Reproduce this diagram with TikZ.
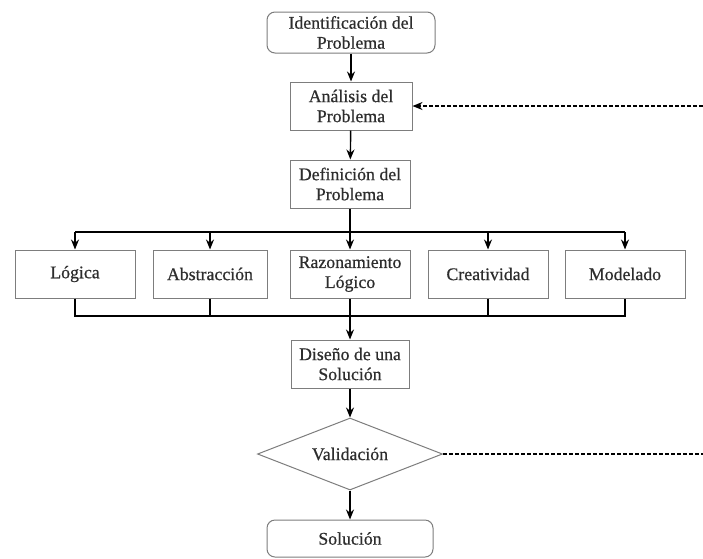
\documentclass[tikz,border=0pt]{standalone}
\usepackage{fontspec}
\setmainfont{Liberation Serif}[FakeBold=0.6]
\usetikzlibrary{shapes.geometric,arrows.meta}
\definecolor{boxgray}{RGB}{125,125,125}
\definecolor{txt}{RGB}{45,45,45}
\begin{document}
\begin{tikzpicture}[x=1pt,y=-1pt,
  box/.style={draw=boxgray,line width=1pt,fill=white,text=txt,inner sep=0pt,align=center,
    font=\fontsize{17.8}{20}\selectfont},
  rbox/.style={box,rounded corners=8pt},
  conn/.style={line width=1.4pt,draw=black},
  arr/.style={conn,-{Stealth[length=10pt,width=8pt]}},
  dsh/.style={line width=1.3pt,draw=black,dash pattern=on 4pt off 2pt}]
\fill[white] (0,0) rectangle (703,558);
\useasboundingbox (0,0) rectangle (703,558);
\node[rbox,minimum width=168pt,minimum height=41pt] (ident) at (351,32.5) {Identificación del\\Problema};
\node[box,minimum width=122pt,minimum height=48pt] (anal) at (351,106) {Análisis del\\Problema};
\node[box,minimum width=120pt,minimum height=48pt] (defi) at (350,184) {Definición del\\Problema};
\node[box,minimum width=120pt,minimum height=48pt] (logica) at (75,274) {Lógica};
\node[box,minimum width=114pt,minimum height=48pt] (abstr) at (210,274) {Abstracción};
\node[box,minimum width=120pt,minimum height=48pt] (razon) at (350,274) {Razonamiento\\Lógico};
\node[box,minimum width=120pt,minimum height=48pt] (creat) at (488,274) {Creatividad};
\node[box,minimum width=120pt,minimum height=48pt] (model) at (625,274) {Modelado};
\node[box,minimum width=118pt,minimum height=48pt] (diseno) at (350,364) {Diseño de una\\Solución};
\node[box,shape=diamond,aspect=2.57,minimum width=185pt,minimum height=72pt] (valid) at (350,454) {Validación};
\node[rbox,minimum width=166pt,minimum height=37pt] (sol) at (350,538.5) {Solución};
\coordinate (bus1) at (350,232);
\coordinate (bus2) at (350,316);
\coordinate (r1) at (703,106);
\coordinate (r2) at (703,454);
\draw[arr] (ident) -- (anal);
\draw[arr] (anal) -- (defi);
\draw[arr] (defi) -- (razon);
\draw[conn] (logica.north |- bus1) -- (model.north |- bus1);
\draw[arr] (logica.north |- bus1) -- (logica);
\draw[arr] (abstr.north |- bus1) -- (abstr);
\draw[arr] (creat.north |- bus1) -- (creat);
\draw[arr] (model.north |- bus1) -- (model);
\draw[conn] (logica) -- (logica.south |- bus2) -- (model.south |- bus2) -- (model);
\draw[conn] (abstr) -- (abstr.south |- bus2);
\draw[conn] (creat) -- (creat.south |- bus2);
\draw[arr] (razon) -- (diseno);
\draw[arr] (diseno) -- (valid);
\draw[arr] (valid) -- (sol);
\draw[dsh,-{Stealth[length=10pt,width=8pt]}] (r1) -- (anal.east);
\draw[dsh] (valid.east) -- (r2);
\end{tikzpicture}
\end{document}
